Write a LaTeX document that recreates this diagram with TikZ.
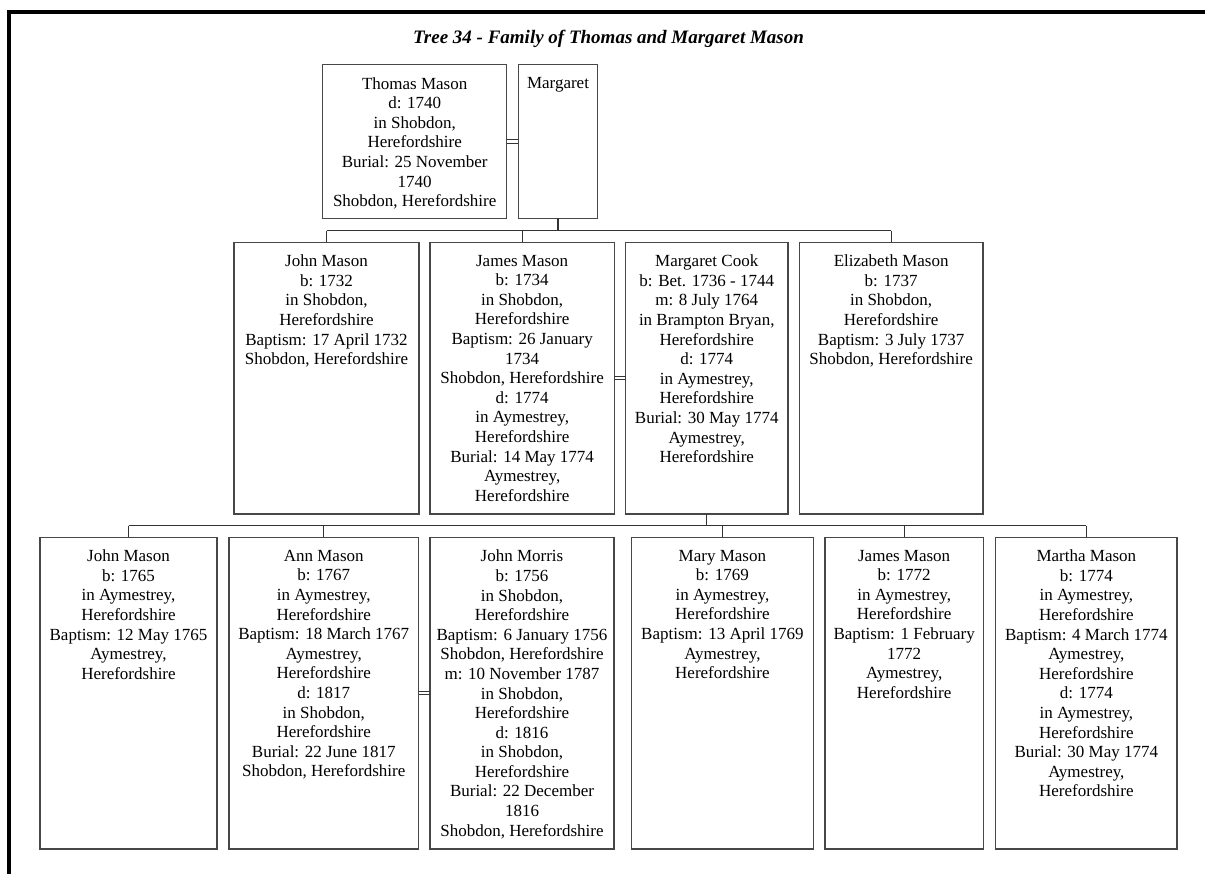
\documentclass[tikz,border=0pt]{standalone}
\usepackage{fontspec}
\setmainfont{Liberation Serif}
\begin{document}
\begin{tikzpicture}[x=1pt,y=-1pt,
  pbox/.style={draw=black!72, line width=1.1pt, rectangle, inner sep=0pt, outer sep=0pt},
  ptext/.style={anchor=north, align=center, inner sep=0pt, font=\fontsize{17}{19.6}\selectfont},
  conn/.style={draw=black!80, line width=1.1pt},
  frame/.style={draw=black, line width=3.5pt}]
\useasboundingbox (0,0) rectangle (1205,874);
\clip (0,0) rectangle (1205,874);
\draw[frame] (9,890) -- (9,12) -- (1220,12);
\node[anchor=base, inner sep=0pt, font=\fontsize{19}{22}\selectfont\bfseries\itshape] (title) at (608.5,43.5) {Tree 34 - Family of Thomas and Margaret Mason};

% generation 1
\node[pbox, minimum width=184pt, minimum height=153.6pt] (thomas) at (414.7,141.5) {};
\node[pbox, minimum width=79.4pt, minimum height=153.6pt] (margaret) at (558,141.5) {};
% generation 2
\node[pbox, minimum width=185pt, minimum height=271.7pt] (john1) at (326.5,378.15) {};
\node[pbox, minimum width=184.3pt, minimum height=271.7pt] (james1) at (522.15,378.15) {};
\node[pbox, minimum width=162.5pt, minimum height=271.7pt] (mcook) at (706.75,378.15) {};
\node[pbox, minimum width=183.7pt, minimum height=271.7pt] (eliz) at (891.15,378.15) {};
% generation 3
\node[pbox, minimum width=177pt, minimum height=311.7pt] (john2) at (128.5,693.15) {};
\node[pbox, minimum width=189.5pt, minimum height=311.7pt] (ann) at (323.75,693.15) {};
\node[pbox, minimum width=184pt, minimum height=311.7pt] (morris) at (522,693.15) {};
\node[pbox, minimum width=181.8pt, minimum height=311.7pt] (mary) at (722.4,693.15) {};
\node[pbox, minimum width=158.3pt, minimum height=311.7pt] (james2) at (904.15,693.15) {};
\node[pbox, minimum width=181.3pt, minimum height=311.7pt] (martha) at (1086.35,693.15) {};

% texts
\node[ptext] (thomasT) at ([yshift=-12.5pt]thomas.north) {Thomas Mason\\d: 1740\\in Shobdon,\\Herefordshire\\Burial: 25 November\\1740\\Shobdon, Herefordshire};
\node[ptext] (margaretT) at ([yshift=-12.5pt]margaret.north) {Margaret};
\node[ptext] (john1T) at ([yshift=-12.5pt]john1.north) {John Mason\\b: 1732\\in Shobdon,\\Herefordshire\\Baptism: 17 April 1732\\Shobdon, Herefordshire};
\node[ptext] (james1T) at ([yshift=-12.5pt]james1.north) {James Mason\\b: 1734\\in Shobdon,\\Herefordshire\\Baptism: 26 January\\1734\\Shobdon, Herefordshire\\d: 1774\\in Aymestrey,\\Herefordshire\\Burial: 14 May 1774\\Aymestrey,\\Herefordshire};
\node[ptext] (mcookT) at ([yshift=-12.5pt]mcook.north) {Margaret Cook\\b: Bet. 1736 - 1744\\m: 8 July 1764\\in Brampton Bryan,\\Herefordshire\\d: 1774\\in Aymestrey,\\Herefordshire\\Burial: 30 May 1774\\Aymestrey,\\Herefordshire};
\node[ptext] (elizT) at ([yshift=-12.5pt]eliz.north) {Elizabeth Mason\\b: 1737\\in Shobdon,\\Herefordshire\\Baptism: 3 July 1737\\Shobdon, Herefordshire};
\node[ptext] (john2T) at ([yshift=-12.5pt]john2.north) {John Mason\\b: 1765\\in Aymestrey,\\Herefordshire\\Baptism: 12 May 1765\\Aymestrey,\\Herefordshire};
\node[ptext] (annT) at ([yshift=-12.5pt]ann.north) {Ann Mason\\b: 1767\\in Aymestrey,\\Herefordshire\\Baptism: 18 March 1767\\Aymestrey,\\Herefordshire\\d: 1817\\in Shobdon,\\Herefordshire\\Burial: 22 June 1817\\Shobdon, Herefordshire};
\node[ptext] (morrisT) at ([yshift=-12.5pt]morris.north) {John Morris\\b: 1756\\in Shobdon,\\Herefordshire\\Baptism: 6 January 1756\\Shobdon, Herefordshire\\m: 10 November 1787\\in Shobdon,\\Herefordshire\\d: 1816\\in Shobdon,\\Herefordshire\\Burial: 22 December\\1816\\Shobdon, Herefordshire};
\node[ptext] (maryT) at ([yshift=-12.5pt]mary.north) {Mary Mason\\b: 1769\\in Aymestrey,\\Herefordshire\\Baptism: 13 April 1769\\Aymestrey,\\Herefordshire};
\node[ptext] (james2T) at ([yshift=-12.5pt]james2.north) {James Mason\\b: 1772\\in Aymestrey,\\Herefordshire\\Baptism: 1 February\\1772\\Aymestrey,\\Herefordshire};
\node[ptext] (marthaT) at ([yshift=-12.5pt]martha.north) {Martha Mason\\b: 1774\\in Aymestrey,\\Herefordshire\\Baptism: 4 March 1774\\Aymestrey,\\Herefordshire\\d: 1774\\in Aymestrey,\\Herefordshire\\Burial: 30 May 1774\\Aymestrey,\\Herefordshire};

% marriages
\draw[conn] ([yshift=1.65pt]thomas.east) -- ([yshift=1.65pt]margaret.west);
\draw[conn] ([yshift=-1.65pt]thomas.east) -- ([yshift=-1.65pt]margaret.west);
\draw[conn] ([yshift=1.65pt]james1.east) -- ([yshift=1.65pt]mcook.west);
\draw[conn] ([yshift=-1.65pt]james1.east) -- ([yshift=-1.65pt]mcook.west);
\draw[conn] ([yshift=1.65pt]ann.east) -- ([yshift=1.65pt]morris.west);
\draw[conn] ([yshift=-1.65pt]ann.east) -- ([yshift=-1.65pt]morris.west);

% descent gen1 -> gen2
\coordinate (bar1) at (0,230.7);
\draw[conn] (margaret.south) -- (margaret.south |- bar1);
\draw[conn] (john1.north |- bar1) -- (eliz.north |- bar1);
\draw[conn] (john1.north |- bar1) -- (john1.north);
\draw[conn] (james1.north |- bar1) -- (james1.north);
\draw[conn] (eliz.north |- bar1) -- (eliz.north);

% descent gen2 -> gen3
\coordinate (bar2) at (0,525.7);
\draw[conn] (mcook.south) -- (mcook.south |- bar2);
\draw[conn] (john2.north |- bar2) -- (martha.north |- bar2);
\draw[conn] (john2.north |- bar2) -- (john2.north);
\draw[conn] (ann.north |- bar2) -- (ann.north);
\draw[conn] (mary.north |- bar2) -- (mary.north);
\draw[conn] (james2.north |- bar2) -- (james2.north);
\draw[conn] (martha.north |- bar2) -- (martha.north);
\end{tikzpicture}
\end{document}
